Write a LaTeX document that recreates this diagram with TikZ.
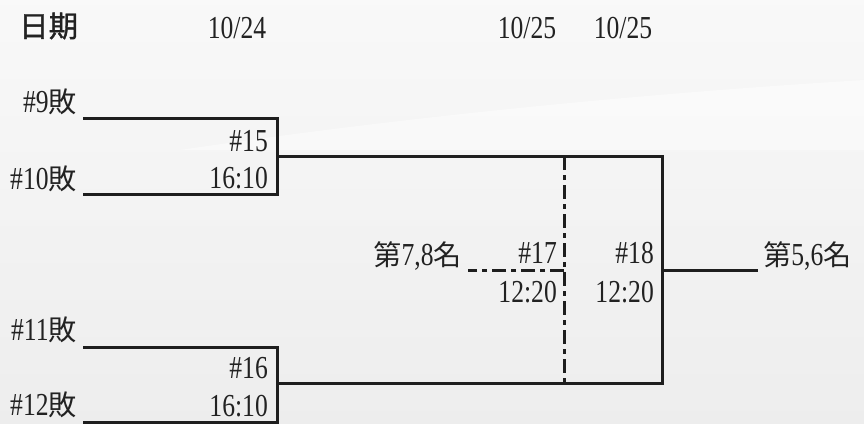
\documentclass[tikz,border=0pt]{standalone}
\usepackage{fontspec}
\setmainfont[FakeStretch=0.8]{Liberation Serif}
\newfontfamily\cjk[Scale=0.88]{Noto Sans CJK TC}
\newfontfamily\cjkb[FakeBold=1.2,Scale=0.92]{Noto Sans CJK TC}
\definecolor{txt}{HTML}{222222}
\definecolor{ln}{HTML}{1E1E1E}
\begin{document}
\begin{tikzpicture}[x=1pt,y=-1pt,
  lbl/.style={inner sep=0pt,text=txt,font=\fontsize{32}{36}\selectfont},
  br/.style={draw=ln,line width=3pt},
  dsh/.style={draw=ln,line width=3pt,dash pattern=on 14pt off 5pt on 5pt off 5pt}]
\useasboundingbox (0,0) rectangle (864,423);
% background
\fill[top color=white!95!gray,bottom color=white!86!gray] (0,0) rectangle (864,423);
\fill[white,opacity=0.45] (180,150) .. controls (450,110) and (700,90) .. (864,80) -- (864,150) .. controls (700,150) and (450,150) .. (180,150) -- cycle;
% header
\node[lbl,anchor=base west] (h0) at (19,37) {\cjkb 日期};
\node[lbl,anchor=base] (h1) at (237,38) {10/24};
\node[lbl,anchor=base] (h2) at (527,38) {10/25};
\node[lbl,anchor=base] (h3) at (623,38) {10/25};
% coordinates
\coordinate (a1) at (83,118);
\coordinate (a2) at (277,118);
\coordinate (a3) at (277,194);
\coordinate (a4) at (83,194);
\coordinate (am) at (277,156);
\coordinate (b1) at (83,347);
\coordinate (b2) at (277,347);
\coordinate (b3) at (277,422);
\coordinate (b4) at (83,422);
\coordinate (bm) at (277,383);
\coordinate (r1) at (662,156);
\coordinate (r2) at (662,383);
\coordinate (rm) at (662,270);
\coordinate (re) at (758,270);
\coordinate (d1) at (564,156);
\coordinate (d2) at (564,383);
\coordinate (dm) at (564,270);
\coordinate (dl) at (468,270);
% brackets
\draw[br] (a1) -- (a2) -- (a3) -- (a4);
\draw[br] (b1) -- (b2) -- (b3) -- (b4);
\draw[br] (am) -- (r1) -- (r2) -- (bm);
\draw[br] (rm) -- (re);
\draw[dsh] (d1) -- (d2);
\draw[dsh] (dm) -- (dl);
% labels
\node[lbl,anchor=base east] (t9) at (77,112) {\#9{\cjk 敗}};
\node[lbl,anchor=base east] (t10) at (77,189) {\#10{\cjk 敗}};
\node[lbl,anchor=base east] (g15) at (268,151) {\#15};
\node[lbl,anchor=base east] (s15) at (268,188) {16:10};
\node[lbl,anchor=base east] (t11) at (77,340) {\#11{\cjk 敗}};
\node[lbl,anchor=base east] (t12) at (77,415) {\#12{\cjk 敗}};
\node[lbl,anchor=base east] (g16) at (268,378) {\#16};
\node[lbl,anchor=base east] (s16) at (268,416) {16:10};
\node[lbl,anchor=base east] (p78) at (462,265) {{\cjk 第}7,8{\cjk 名}};
\node[lbl,anchor=base east] (g17) at (557,263) {\#17};
\node[lbl,anchor=base east] (s17) at (557,302) {12:20};
\node[lbl,anchor=base east] (g18) at (654,263) {\#18};
\node[lbl,anchor=base east] (s18) at (654,302) {12:20};
\node[lbl,anchor=base west] (p56) at (763,265) {{\cjk 第}5,6{\cjk 名}};
\end{tikzpicture}
\end{document}
